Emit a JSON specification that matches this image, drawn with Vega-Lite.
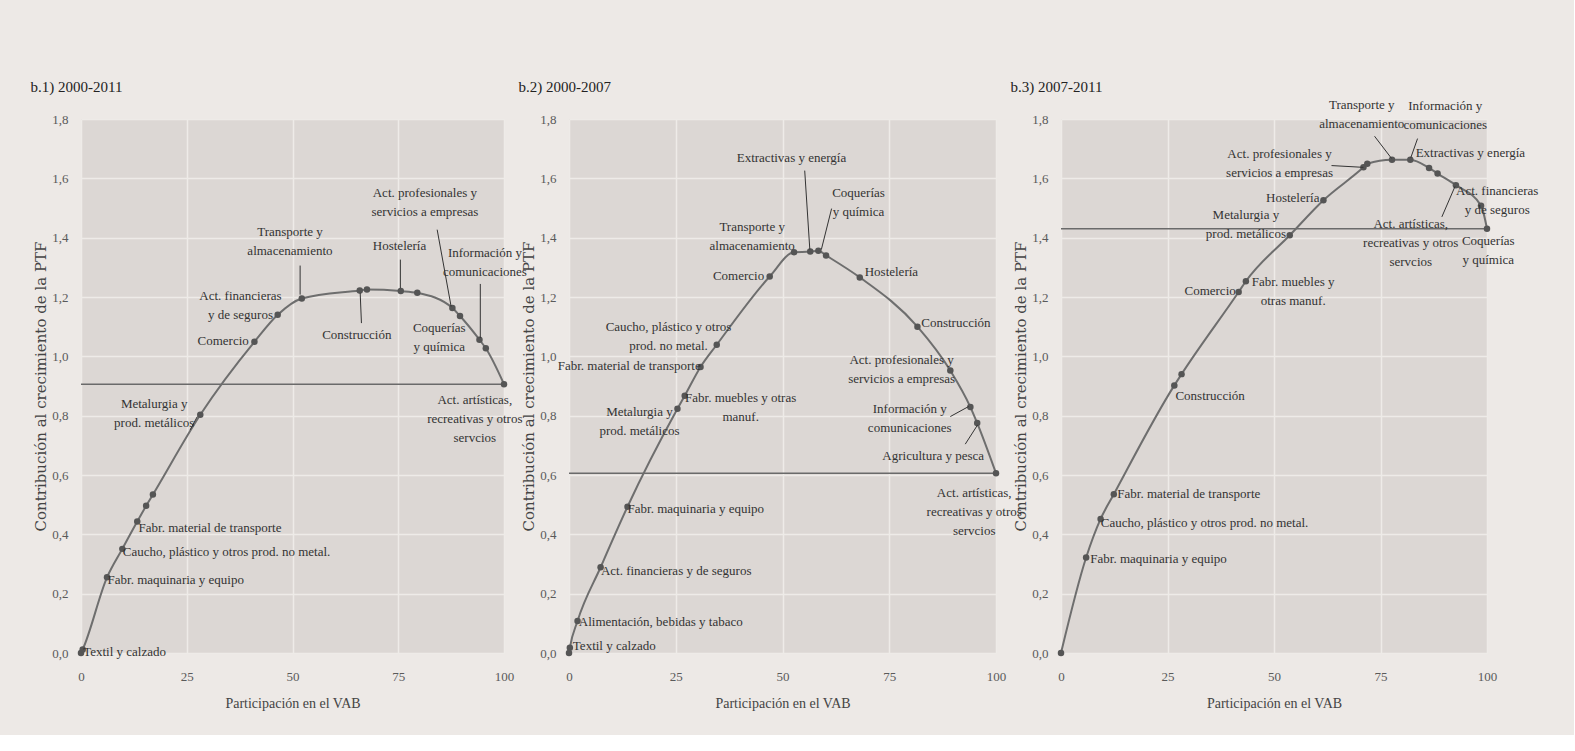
{
  "$schema": "https://vega.github.io/schema/vega-lite/v6.json",
  "padding": {"left": 30, "top": 79, "right": 35, "bottom": 25},
  "spacing": 65,
  "bounds": "flush",
  "datasets": {
    "points": [
      {"panel": "b1", "x": 0, "y": 0}, {"panel": "b1", "x": 0.4, "y": 0.012}, {"panel": "b1", "x": 6.15, "y": 0.255},
      {"panel": "b1", "x": 9.77, "y": 0.351}, {"panel": "b1", "x": 13.3, "y": 0.443}, {"panel": "b1", "x": 15.4, "y": 0.496},
      {"panel": "b1", "x": 17.0, "y": 0.534}, {"panel": "b1", "x": 28.2, "y": 0.803}, {"panel": "b1", "x": 41.0, "y": 1.049},
      {"panel": "b1", "x": 46.5, "y": 1.140}, {"panel": "b1", "x": 52.2, "y": 1.195}, {"panel": "b1", "x": 65.9, "y": 1.222},
      {"panel": "b1", "x": 67.6, "y": 1.225}, {"panel": "b1", "x": 75.6, "y": 1.220}, {"panel": "b1", "x": 79.5, "y": 1.214},
      {"panel": "b1", "x": 87.8, "y": 1.163}, {"panel": "b1", "x": 89.6, "y": 1.136}, {"panel": "b1", "x": 94.2, "y": 1.056},
      {"panel": "b1", "x": 95.7, "y": 1.027}, {"panel": "b1", "x": 100, "y": 0.906},
      {"panel": "b2", "x": 0, "y": 0}, {"panel": "b2", "x": 0.2, "y": 0.018}, {"panel": "b2", "x": 2.0, "y": 0.108},
      {"panel": "b2", "x": 7.4, "y": 0.289}, {"panel": "b2", "x": 13.7, "y": 0.493}, {"panel": "b2", "x": 25.4, "y": 0.823},
      {"panel": "b2", "x": 27.1, "y": 0.867}, {"panel": "b2", "x": 30.8, "y": 0.964}, {"panel": "b2", "x": 34.6, "y": 1.039},
      {"panel": "b2", "x": 47.0, "y": 1.269}, {"panel": "b2", "x": 52.7, "y": 1.351}, {"panel": "b2", "x": 56.5, "y": 1.353},
      {"panel": "b2", "x": 58.4, "y": 1.356}, {"panel": "b2", "x": 60.2, "y": 1.340}, {"panel": "b2", "x": 68.1, "y": 1.266},
      {"panel": "b2", "x": 81.6, "y": 1.100}, {"panel": "b2", "x": 89.3, "y": 0.952}, {"panel": "b2", "x": 94.0, "y": 0.829},
      {"panel": "b2", "x": 95.6, "y": 0.775}, {"panel": "b2", "x": 100, "y": 0.606},
      {"panel": "b3", "x": 0, "y": 0}, {"panel": "b3", "x": 5.9, "y": 0.322}, {"panel": "b3", "x": 9.3, "y": 0.452},
      {"panel": "b3", "x": 12.4, "y": 0.535}, {"panel": "b3", "x": 26.6, "y": 0.902}, {"panel": "b3", "x": 28.3, "y": 0.940},
      {"panel": "b3", "x": 41.7, "y": 1.217}, {"panel": "b3", "x": 43.4, "y": 1.253}, {"panel": "b3", "x": 53.7, "y": 1.408},
      {"panel": "b3", "x": 61.6, "y": 1.526}, {"panel": "b3", "x": 71.0, "y": 1.637}, {"panel": "b3", "x": 71.9, "y": 1.649},
      {"panel": "b3", "x": 77.7, "y": 1.663}, {"panel": "b3", "x": 82.0, "y": 1.663}, {"panel": "b3", "x": 86.4, "y": 1.635},
      {"panel": "b3", "x": 88.4, "y": 1.616}, {"panel": "b3", "x": 92.7, "y": 1.577}, {"panel": "b3", "x": 98.6, "y": 1.508},
      {"panel": "b3", "x": 100, "y": 1.430}
    ],
    "totals": [
      {"panel": "b1", "y": 0.906}, {"panel": "b2", "y": 0.606}, {"panel": "b3", "y": 1.430}
    ],
    "labels": [
      {"panel": "b1", "lx": 81.3, "ly": 1.571, "text": "Act. profesionales y\nservicios a empresas"},
      {"panel": "b1", "lx": 49.4, "ly": 1.438, "text": "Transporte y\nalmacenamiento"},
      {"panel": "b1", "lx": 75.3, "ly": 1.391, "text": "Hostelería"},
      {"panel": "b1", "lx": 95.5, "ly": 1.369, "text": "Información y\ncomunicaciones"},
      {"panel": "b1", "lx": 37.7, "ly": 1.225, "text": "Act. financieras\ny de seguros"},
      {"panel": "b1", "lx": 33.6, "ly": 1.073, "text": "Comercio"},
      {"panel": "b1", "lx": 65.2, "ly": 1.093, "text": "Construcción"},
      {"panel": "b1", "lx": 84.7, "ly": 1.116, "text": "Coquerías\ny química"},
      {"panel": "b1", "lx": 93.1, "ly": 0.874, "text": "Act. artísticas,\nrecreativas y otros\nservcios"},
      {"panel": "b1", "lx": 17.3, "ly": 0.860, "text": "Metalurgia y\nprod. metálicos"},
      {"panel": "b1", "lx": 30.5, "ly": 0.443, "text": "Fabr. material de transporte"},
      {"panel": "b1", "lx": 34.4, "ly": 0.360, "text": "Caucho, plástico y otros prod. no metal."},
      {"panel": "b1", "lx": 22.4, "ly": 0.267, "text": "Fabr. maquinaria y equipo"},
      {"panel": "b1", "lx": 10.3, "ly": 0.025, "text": "Textil y calzado"},
      {"panel": "b2", "lx": 52.1, "ly": 1.689, "text": "Extractivas y energía"},
      {"panel": "b2", "lx": 67.8, "ly": 1.571, "text": "Coquerías\ny química"},
      {"panel": "b2", "lx": 42.9, "ly": 1.456, "text": "Transporte y\nalmacenamiento"},
      {"panel": "b2", "lx": 39.7, "ly": 1.292, "text": "Comercio"},
      {"panel": "b2", "lx": 75.5, "ly": 1.305, "text": "Hostelería"},
      {"panel": "b2", "lx": 90.6, "ly": 1.133, "text": "Construcción"},
      {"panel": "b2", "lx": 23.3, "ly": 1.119, "text": "Caucho, plástico y otros\nprod. no metal."},
      {"panel": "b2", "lx": 14.1, "ly": 0.986, "text": "Fabr. material de transporte"},
      {"panel": "b2", "lx": 77.9, "ly": 1.009, "text": "Act. profesionales y\nservicios a empresas"},
      {"panel": "b2", "lx": 40.2, "ly": 0.880, "text": "Fabr. muebles y otras\nmanuf."},
      {"panel": "b2", "lx": 16.5, "ly": 0.834, "text": "Metalurgia y\nprod. metálicos"},
      {"panel": "b2", "lx": 79.8, "ly": 0.843, "text": "Información y\ncomunicaciones"},
      {"panel": "b2", "lx": 85.3, "ly": 0.685, "text": "Agricultura y pesca"},
      {"panel": "b2", "lx": 94.9, "ly": 0.559, "text": "Act. artísticas,\nrecreativas y otros\nservcios"},
      {"panel": "b2", "lx": 29.7, "ly": 0.506, "text": "Fabr. maquinaria y equipo"},
      {"panel": "b2", "lx": 25.1, "ly": 0.295, "text": "Act. financieras y de seguros"},
      {"panel": "b2", "lx": 21.5, "ly": 0.126, "text": "Alimentación, bebidas y tabaco"},
      {"panel": "b2", "lx": 10.6, "ly": 0.045, "text": "Textil y calzado"},
      {"panel": "b3", "lx": 70.6, "ly": 1.869, "text": "Transporte y\nalmacenamiento"},
      {"panel": "b3", "lx": 90.2, "ly": 1.863, "text": "Información y\ncomunicaciones"},
      {"panel": "b3", "lx": 51.3, "ly": 1.703, "text": "Act. profesionales y\nservicios a empresas"},
      {"panel": "b3", "lx": 96.1, "ly": 1.706, "text": "Extractivas y energía"},
      {"panel": "b3", "lx": 54.4, "ly": 1.554, "text": "Hostelería"},
      {"panel": "b3", "lx": 43.4, "ly": 1.496, "text": "Metalurgia y\nprod. metálicos"},
      {"panel": "b3", "lx": 102.4, "ly": 1.577, "text": "Act. financieras\ny de seguros"},
      {"panel": "b3", "lx": 82.1, "ly": 1.467, "text": "Act. artísticas,\nrecreativas y otros\nservcios"},
      {"panel": "b3", "lx": 100.3, "ly": 1.408, "text": "Coquerías\ny química"},
      {"panel": "b3", "lx": 35.0, "ly": 1.242, "text": "Comercio"},
      {"panel": "b3", "lx": 54.5, "ly": 1.271, "text": "Fabr. muebles y\notras manuf."},
      {"panel": "b3", "lx": 35.0, "ly": 0.888, "text": "Construcción"},
      {"panel": "b3", "lx": 30.0, "ly": 0.557, "text": "Fabr. material de transporte"},
      {"panel": "b3", "lx": 33.7, "ly": 0.460, "text": "Caucho, plástico y otros prod. no metal."},
      {"panel": "b3", "lx": 22.9, "ly": 0.337, "text": "Fabr. maquinaria y equipo"}
    ],
    "leaders": [
      {"panel": "b1", "x1": 51.8, "y1": 1.306, "x2": 51.8, "y2": 1.208},
      {"panel": "b1", "x1": 66.0, "y1": 1.214, "x2": 66.3, "y2": 1.112},
      {"panel": "b1", "x1": 75.5, "y1": 1.326, "x2": 75.5, "y2": 1.230},
      {"panel": "b1", "x1": 84.2, "y1": 1.427, "x2": 87.5, "y2": 1.168},
      {"panel": "b1", "x1": 94.4, "y1": 1.244, "x2": 94.4, "y2": 1.062},
      {"panel": "b1", "x1": 25.8, "y1": 0.752, "x2": 27.5, "y2": 0.797},
      {"panel": "b2", "x1": 55.2, "y1": 1.626, "x2": 56.4, "y2": 1.360},
      {"panel": "b2", "x1": 61.5, "y1": 1.498, "x2": 59.1, "y2": 1.360},
      {"panel": "b2", "x1": 89.3, "y1": 0.797, "x2": 93.6, "y2": 0.831},
      {"panel": "b2", "x1": 92.8, "y1": 0.704, "x2": 95.7, "y2": 0.769},
      {"panel": "b3", "x1": 63.5, "y1": 1.643, "x2": 71.0, "y2": 1.637},
      {"panel": "b3", "x1": 73.6, "y1": 1.742, "x2": 77.6, "y2": 1.667},
      {"panel": "b3", "x1": 83.7, "y1": 1.734, "x2": 82.1, "y2": 1.669},
      {"panel": "b3", "x1": 89.4, "y1": 1.470, "x2": 92.5, "y2": 1.573}
    ]
  },
  "hconcat": [
    {
      "width": 423, "height": 534,
      "resolve": {"axis": {"x": "independent"}},
      "layer": [
        {"data": {"name": "totals"}, "transform": [{"filter": "datum.panel == 'b1'"}],
         "mark": {"type": "rule", "color": "#6a6a6a", "strokeWidth": 1.5},
         "encoding": {"y": {"field": "y", "type": "quantitative"}}},
        {"data": {"name": "points"}, "transform": [{"filter": "datum.panel == 'b1'"}],
         "mark": {"type": "line", "interpolate": "monotone", "color": "#6e6e6e", "strokeWidth": 2},
         "encoding": {
           "x": {"field": "x", "type": "quantitative", "scale": {"domain": [0, 100], "nice": false},
                 "axis": {"orient": "bottom", "values": [0, 25, 50, 75, 100], "labelFlush": false, "labelPadding": 17, "title": "Participación en el VAB", "titleFontSize": 14, "titlePadding": 13}},
           "y": {"field": "y", "type": "quantitative", "scale": {"domain": [0, 1.8], "nice": false},
                 "axis": {"values": [0, 0.2, 0.4, 0.6, 0.8, 1.0, 1.2, 1.4, 1.6, 1.8], "labelExpr": "replace(format(datum.value, '.1f'), '.', ',')", "labelPadding": 13, "title": "Contribución al crecimiento de la PTF", "titleFont": "DejaVu Serif", "titleFontSize": 15, "titlePadding": 3}},
           "order": {"field": "x"}}},
        {"data": {"name": "points"}, "transform": [{"filter": "datum.panel == 'b1'"}],
         "mark": {"type": "circle", "size": 42, "color": "#555555", "opacity": 1},
         "encoding": {"x": {"field": "x", "type": "quantitative", "axis": null}, "y": {"field": "y", "type": "quantitative"}}},
        {"data": {"name": "leaders"}, "transform": [{"filter": "datum.panel == 'b1'"}],
         "mark": {"type": "rule", "color": "#333333", "strokeWidth": 1},
         "encoding": {
           "x": {"field": "x1", "type": "quantitative", "axis": {"orient": "top", "labels": false, "ticks": false, "domain": false, "grid": false, "title": "b.1) 2000-2011", "titleX": -51, "titleY": -28, "titleAlign": "left", "titleAnchor": "start", "titleBaseline": "alphabetic", "titleFontSize": 15, "titleColor": "#222222"}},
           "y": {"field": "y1", "type": "quantitative"}, "x2": {"field": "x2"}, "y2": {"field": "y2"}}},
        {"data": {"name": "labels"}, "transform": [{"filter": "datum.panel == 'b1'"}],
         "mark": {"type": "text", "align": "center", "baseline": "top", "lineBreak": "\n", "lineHeight": 19, "font": "Liberation Serif", "fontSize": 13, "color": "#333333"},
         "encoding": {"x": {"field": "lx", "type": "quantitative", "axis": null}, "y": {"field": "ly", "type": "quantitative"}, "text": {"field": "text"}}}
      ]
    },
    {
      "width": 427, "height": 534,
      "resolve": {"axis": {"x": "independent"}},
      "layer": [
        {"data": {"name": "totals"}, "transform": [{"filter": "datum.panel == 'b2'"}],
         "mark": {"type": "rule", "color": "#6a6a6a", "strokeWidth": 1.5},
         "encoding": {"y": {"field": "y", "type": "quantitative"}}},
        {"data": {"name": "points"}, "transform": [{"filter": "datum.panel == 'b2'"}],
         "mark": {"type": "line", "interpolate": "monotone", "color": "#6e6e6e", "strokeWidth": 2},
         "encoding": {
           "x": {"field": "x", "type": "quantitative", "scale": {"domain": [0, 100], "nice": false},
                 "axis": {"orient": "bottom", "values": [0, 25, 50, 75, 100], "labelFlush": false, "labelPadding": 17, "title": "Participación en el VAB", "titleFontSize": 14, "titlePadding": 13}},
           "y": {"field": "y", "type": "quantitative", "scale": {"domain": [0, 1.8], "nice": false},
                 "axis": {"values": [0, 0.2, 0.4, 0.6, 0.8, 1.0, 1.2, 1.4, 1.6, 1.8], "labelExpr": "replace(format(datum.value, '.1f'), '.', ',')", "labelPadding": 13, "title": "Contribución al crecimiento de la PTF", "titleFont": "DejaVu Serif", "titleFontSize": 15, "titlePadding": 3}},
           "order": {"field": "x"}}},
        {"data": {"name": "points"}, "transform": [{"filter": "datum.panel == 'b2'"}],
         "mark": {"type": "circle", "size": 42, "color": "#555555", "opacity": 1},
         "encoding": {"x": {"field": "x", "type": "quantitative", "axis": null}, "y": {"field": "y", "type": "quantitative"}}},
        {"data": {"name": "leaders"}, "transform": [{"filter": "datum.panel == 'b2'"}],
         "mark": {"type": "rule", "color": "#333333", "strokeWidth": 1},
         "encoding": {
           "x": {"field": "x1", "type": "quantitative", "axis": {"orient": "top", "labels": false, "ticks": false, "domain": false, "grid": false, "title": "b.2) 2000-2007", "titleX": -51, "titleY": -28, "titleAlign": "left", "titleAnchor": "start", "titleBaseline": "alphabetic", "titleFontSize": 15, "titleColor": "#222222"}},
           "y": {"field": "y1", "type": "quantitative"}, "x2": {"field": "x2"}, "y2": {"field": "y2"}}},
        {"data": {"name": "labels"}, "transform": [{"filter": "datum.panel == 'b2'"}],
         "mark": {"type": "text", "align": "center", "baseline": "top", "lineBreak": "\n", "lineHeight": 19, "font": "Liberation Serif", "fontSize": 13, "color": "#333333"},
         "encoding": {"x": {"field": "lx", "type": "quantitative", "axis": null}, "y": {"field": "ly", "type": "quantitative"}, "text": {"field": "text"}}}
      ]
    },
    {
      "width": 426, "height": 534,
      "resolve": {"axis": {"x": "independent"}},
      "layer": [
        {"data": {"name": "totals"}, "transform": [{"filter": "datum.panel == 'b3'"}],
         "mark": {"type": "rule", "color": "#6a6a6a", "strokeWidth": 1.5},
         "encoding": {"y": {"field": "y", "type": "quantitative"}}},
        {"data": {"name": "points"}, "transform": [{"filter": "datum.panel == 'b3'"}],
         "mark": {"type": "line", "interpolate": "monotone", "color": "#6e6e6e", "strokeWidth": 2},
         "encoding": {
           "x": {"field": "x", "type": "quantitative", "scale": {"domain": [0, 100], "nice": false},
                 "axis": {"orient": "bottom", "values": [0, 25, 50, 75, 100], "labelFlush": false, "labelPadding": 17, "title": "Participación en el VAB", "titleFontSize": 14, "titlePadding": 13}},
           "y": {"field": "y", "type": "quantitative", "scale": {"domain": [0, 1.8], "nice": false},
                 "axis": {"values": [0, 0.2, 0.4, 0.6, 0.8, 1.0, 1.2, 1.4, 1.6, 1.8], "labelExpr": "replace(format(datum.value, '.1f'), '.', ',')", "labelPadding": 13, "title": "Contribución al crecimiento de la PTF", "titleFont": "DejaVu Serif", "titleFontSize": 15, "titlePadding": 3}},
           "order": {"field": "x"}}},
        {"data": {"name": "points"}, "transform": [{"filter": "datum.panel == 'b3'"}],
         "mark": {"type": "circle", "size": 42, "color": "#555555", "opacity": 1},
         "encoding": {"x": {"field": "x", "type": "quantitative", "axis": null}, "y": {"field": "y", "type": "quantitative"}}},
        {"data": {"name": "leaders"}, "transform": [{"filter": "datum.panel == 'b3'"}],
         "mark": {"type": "rule", "color": "#333333", "strokeWidth": 1},
         "encoding": {
           "x": {"field": "x1", "type": "quantitative", "axis": {"orient": "top", "labels": false, "ticks": false, "domain": false, "grid": false, "title": "b.3) 2007-2011", "titleX": -51, "titleY": -28, "titleAlign": "left", "titleAnchor": "start", "titleBaseline": "alphabetic", "titleFontSize": 15, "titleColor": "#222222"}},
           "y": {"field": "y1", "type": "quantitative"}, "x2": {"field": "x2"}, "y2": {"field": "y2"}}},
        {"data": {"name": "labels"}, "transform": [{"filter": "datum.panel == 'b3'"}],
         "mark": {"type": "text", "align": "center", "baseline": "top", "lineBreak": "\n", "lineHeight": 19, "font": "Liberation Serif", "fontSize": 13, "color": "#333333"},
         "encoding": {"x": {"field": "lx", "type": "quantitative", "axis": null}, "y": {"field": "ly", "type": "quantitative"}, "text": {"field": "text"}}}
      ]
    }
  ],
  "config": {
    "background": "#ede9e6",
    "view": {"fill": "#dcd7d4", "stroke": null},
    "font": "Liberation Serif",
    "axis": {
      "labelFont": "Liberation Serif", "labelFontSize": 13, "labelColor": "#5a5a5a",
      "titleFont": "Liberation Serif", "titleFontWeight": "normal", "titleColor": "#444444",
      "domain": false, "ticks": false, "grid": true, "gridColor": "#eeebe8", "gridWidth": 1.5
    }
  }
}
